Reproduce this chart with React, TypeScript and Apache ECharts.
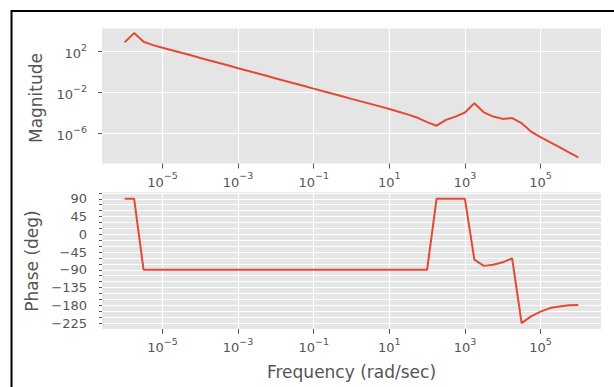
import React, { useEffect, useRef } from "react";
import * as echarts from "echarts";

// Frequency samples, as decades: omega = 10^e rad/sec
const freqDecades = [
  -6, -5.75, -5.5, -5.25, -5, -4.75, -4.5, -4.25, -4, -3.75, -3.5, -3.25, -3,
  -2.75, -2.5, -2.25, -2, -1.75, -1.5, -1.25, -1, -0.75, -0.5, -0.25, 0,
  0.25, 0.5, 0.75, 1, 1.25, 1.5, 1.75, 2, 2.25, 2.5, 2.75, 3, 3.25, 3.5,
  3.75, 4, 4.25, 4.5, 4.75, 5, 5.25, 5.5, 5.75, 6,
];

// |G(jw)| at each sample
const magnitude = [
  7.9e2, 6.3e3, 8.9e2, 4.2e2, 2.3e2, 1.3e2, 7.4e1, 4.2e1, 2.3e1, 1.3e1, 7.4, 4.2, 2.3,
  1.3, 0.74, 0.42, 0.23, 0.13, 7.4e-2, 4.2e-2, 2.3e-2, 1.3e-2, 7.4e-3, 4.2e-3, 2.3e-3,
  1.3e-3, 7.4e-4, 4.2e-4, 2.3e-4, 1.26e-4, 6.6e-5, 3.2e-5, 1.2e-5, 5.4e-6, 2.0e-5, 4.2e-5, 1.05e-4, 8.5e-4, 1.1e-4,
  4.2e-5, 2.5e-5, 3.0e-5, 9.5e-6, 1.45e-6, 4.1e-7, 1.3e-7, 4.2e-8, 1.3e-8, 4.2e-9,
];

// arg G(jw) in degrees at each sample
const phaseDeg = [
  90, 90, -90, -90, -90, -90, -90, -90, -90, -90, -90, -90, -90,
  -90, -90, -90, -90, -90, -90, -90, -90, -90, -90, -90, -90,
  -90, -90, -90, -90, -90, -90, -90, -90, 90, 90, 90, 90, -64, -80,
  -77, -71, -61, -225, -208, -196, -187, -183, -180, -179,
];

// Tick positions
const freqTicks = [1e-5, 1e-3, 1e-1, 1e1, 1e3, 1e5];
const magTicks = [1e-6, 1e-2, 1e2];
const phaseMinorTicks = [
  -225, -210, -195, -180, -165, -150, -135, -120, -105, -90, -75, -60, -45, -30, -15,
  0, 15, 30, 45, 60, 75, 90, 105,
];
const phaseLabelTicks = [-225, -180, -135, -90, -45, 0, 45, 90];

const FONT = "DejaVu Sans";
const TEXT = "#555555";
const PANEL = "#E5E5E5";
const LINE = "#E24A33";

const supRich = {
  b: { fontSize: 13, color: TEXT, fontFamily: FONT, verticalAlign: "bottom", lineHeight: 18 },
  s: { fontSize: 9.5, color: TEXT, fontFamily: FONT, verticalAlign: "top", lineHeight: 18 },
};

function powerLabel(v: number) {
  const p = Math.round(Math.log10(v));
  return `{b|10}{s|${String(p).replace("-", "\u2212")}}`;
}

function buildOption() {
  const freqs = freqDecades.map((e) => Math.pow(10, e));
  const magData = freqs.map((f, i) => [f, magnitude[i]]);
  const phaseData = freqs.map((f, i) => [f, phaseDeg[i]]);

  const freqAxis = (gridIndex: number) => ({
    type: "log",
    logBase: 10,
    gridIndex,
    min: Math.pow(10, -6.6),
    max: Math.pow(10, 6.6),
    axisLine: { show: false, onZero: false },
    axisTick: { show: true, length: 5, customValues: freqTicks, lineStyle: { color: TEXT, width: 1 } },
    axisLabel: {
      customValues: freqTicks,
      margin: 7,
      formatter: (v: number) => powerLabel(v),
      rich: supRich,
    },
    splitLine: { show: true, lineStyle: { color: "#ffffff", width: 1.2 } },
  });

  return {
    animation: false,
    backgroundColor: "#ffffff",
    textStyle: { fontFamily: FONT },
    grid: [
      { left: 102, top: 28.5, width: 499, height: 135, show: true, backgroundColor: PANEL, borderWidth: 0 },
      { left: 102, top: 192.3, width: 499, height: 136.7, show: true, backgroundColor: PANEL, borderWidth: 0 },
    ],
    xAxis: [freqAxis(0), freqAxis(1)],
    yAxis: [
      {
        type: "log",
        logBase: 10,
        gridIndex: 0,
        min: Math.pow(10, -8.97),
        max: Math.pow(10, 4.25),
        axisLine: { show: false },
        axisTick: { show: true, length: 4, customValues: magTicks, lineStyle: { color: TEXT, width: 1 } },
        axisLabel: {
          customValues: magTicks,
          margin: 15,
          formatter: (v: number) => powerLabel(v),
          rich: supRich,
        },
        splitLine: { show: true, lineStyle: { color: "#ffffff", width: 1.2 } },
      },
      {
        type: "value",
        gridIndex: 1,
        min: -240,
        max: 106.5,
        axisLine: { show: false },
        axisTick: { show: true, length: 3, customValues: phaseMinorTicks, lineStyle: { color: TEXT, width: 1 } },
        axisLabel: {
          customValues: phaseLabelTicks,
          margin: 15,
          color: TEXT,
          fontFamily: FONT,
          fontSize: 13,
          formatter: (v: number) => String(v).replace("-", "\u2212"),
        },
        splitLine: { show: true, lineStyle: { color: "#ffffff", width: 1.2 } },
      },
    ],
    series: [
      {
        type: "line",
        xAxisIndex: 0,
        yAxisIndex: 0,
        data: magData,
        symbol: "none",
        lineStyle: { color: LINE, width: 2 },
      },
      {
        type: "line",
        xAxisIndex: 1,
        yAxisIndex: 1,
        data: phaseData,
        symbol: "none",
        lineStyle: { color: LINE, width: 2 },
      },
    ],
    graphic: [
      {
        type: "rect",
        shape: { x: 11.5, y: 11, width: 700, height: 500 },
        style: { fill: "none", stroke: "#000000", lineWidth: 2 },
        silent: true,
      },
      {
        type: "text",
        x: 36,
        y: 98,
        rotation: Math.PI / 2,
        style: { text: "Magnitude", fill: TEXT, font: `17px "${FONT}"`, textAlign: "center", textVerticalAlign: "middle" },
      },
      {
        type: "text",
        x: 31.5,
        y: 261,
        rotation: Math.PI / 2,
        style: { text: "Phase (deg)", fill: TEXT, font: `17px "${FONT}"`, textAlign: "center", textVerticalAlign: "middle" },
      },
      {
        type: "text",
        x: 351.5,
        y: 372,
        style: { text: "Frequency (rad/sec)", fill: TEXT, font: `17px "${FONT}"`, textAlign: "center", textVerticalAlign: "middle" },
      },
    ],
  };
}

export default function App() {
  const ref = useRef<HTMLDivElement>(null);
  useEffect(() => {
    const chart = echarts.init(ref.current!, null, { renderer: "svg" });
    chart.setOption(buildOption() as any);
    return () => chart.dispose();
  }, []);
  return (
    <div
      ref={ref}
      style={{ position: "fixed", left: 0, top: 0, width: 614, height: 387, background: "#ffffff" }}
    />
  );
}
